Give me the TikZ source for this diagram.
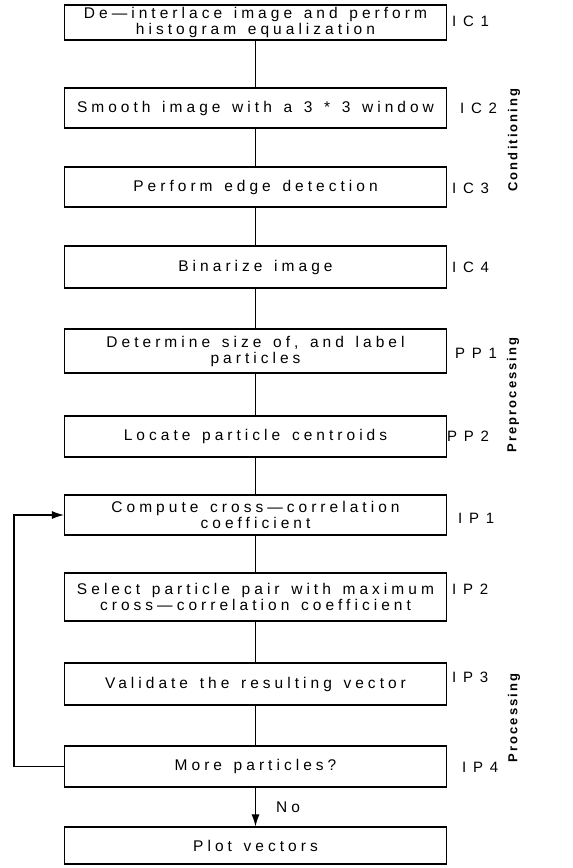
\documentclass[tikz,border=0pt]{standalone}
\usepackage{fontspec}
\setmainfont{Liberation Sans}[LetterSpace=26,WordSpace=1.4]
\newfontfamily\tagfont{Liberation Sans}[LetterSpace=45]
\newfontfamily\sidefont{Liberation Sans}[LetterSpace=16]
\usetikzlibrary{arrows.meta}
\begin{document}
\begin{tikzpicture}[x=1pt,y=-1pt,
  stepbox/.style={draw, line width=1.2pt, minimum width=382pt, inner sep=0pt,
    align=center, font=\fontsize{15.5}{16}\selectfont},
  tag/.style={anchor=west, inner sep=0pt, font=\tagfont\fontsize{15}{16}\selectfont},
  side/.style={rotate=90, inner sep=0pt, font=\sidefont\bfseries\fontsize{13}{14}\selectfont},
  conn/.style={line width=1.1pt},
  arr/.style={line width=1.1pt, -{Latex[length=12pt,width=8pt]}}]
\useasboundingbox (0,0) rectangle (573,868);
\node[stepbox, minimum height=35pt] (b1) at (255.5,22.5) {De---interlace image and perform\\histogram equalization};
\node[stepbox, minimum height=40pt] (b2) at (255.5,108) {Smooth image with a 3 * 3 window};
\node[stepbox, minimum height=40pt] (b3) at (255.5,187) {Perform edge detection};
\node[stepbox, minimum height=42pt] (b4) at (255.5,267) {Binarize image};
\node[stepbox, minimum height=44pt] (b5) at (255.5,351) {Determine size of, and label\\particles};
\node[stepbox, minimum height=41pt] (b6) at (255.5,436.5) {Locate particle centroids};
\node[stepbox, minimum height=40pt] (b7) at (255.5,515) {Compute cross---correlation\\coefficient};
\node[stepbox, minimum height=48pt] (b8) at (255.5,597) {Select particle pair with maximum\\cross---correlation coefficient};
\node[stepbox, minimum height=42pt] (b9) at (255.5,684) {Validate the resulting vector};
\node[stepbox, minimum height=41pt] (b10) at (255.5,766.5) {More particles?};
\node[stepbox, minimum height=37pt] (b11) at (255.5,845.5) {Plot vectors};

\node[tag] (t1) at (452,21) {IC1};
\node[tag] (t2) at (460,108) {IC2};
\node[tag] (t3) at (452,188) {IC3};
\node[tag] (t4) at (452,267) {IC4};
\node[tag] (t5) at (455,353) {PP1};
\node[tag] (t6) at (447,436) {PP2};
\node[tag] (t7) at (458,518) {IP1};
\node[tag] (t8) at (452,589) {IP2};
\node[tag] (t9) at (452,677) {IP3};
\node[tag] (t10) at (462,767) {IP4};

\node[side] (s1) at (514,140) {Conditioning};
\node[side] (s2) at (513,395) {Preprocessing};
\node[side] (s3) at (514,718) {Processing};

\draw[conn] (b1) -- (b2);
\draw[conn] (b2) -- (b3);
\draw[conn] (b3) -- (b4);
\draw[conn] (b4) -- (b5);
\draw[conn] (b5) -- (b6);
\draw[conn] (b6) -- (b7);
\draw[conn] (b7) -- (b8);
\draw[conn] (b8) -- (b9);
\draw[conn] (b9) -- (b10);
\draw[arr] (b10) -- node[right=20pt, inner sep=0pt, font=\fontsize{15.5}{16}\selectfont] (no) {No} (b11);
\coordinate (lc) at (14,0);
\draw[arr] (b10.west) -- (b10.west -| lc) -- (b7.west -| lc) -- (b7.west);
\end{tikzpicture}
\end{document}
